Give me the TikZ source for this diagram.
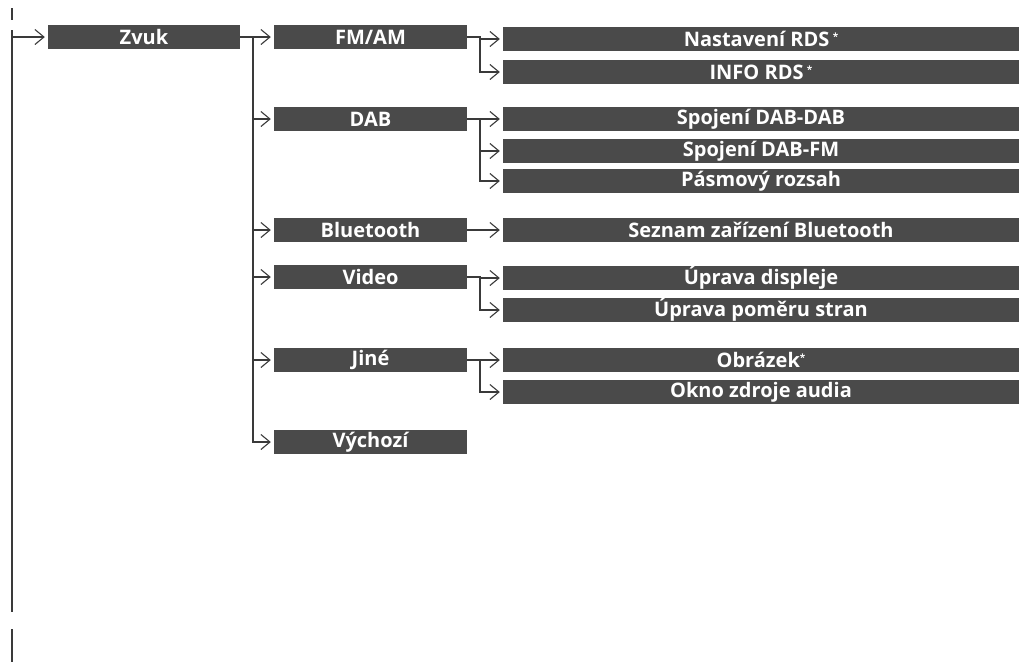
\documentclass[tikz,border=0pt]{standalone}
\usepackage{fontspec}
\setmainfont{Open Sans}
\usetikzlibrary{arrows.meta}
\definecolor{boxgray}{HTML}{4A4A4A}
\definecolor{linegray}{HTML}{3A3A3A}
\begin{document}
\begin{tikzpicture}[x=1pt,y=-1pt,
  menubox/.style={rectangle,fill=boxgray,text=white,inner sep=0pt,minimum height=24pt,font=\fontsize{20}{22}\selectfont\bfseries},
  lvlone/.style={menubox,minimum width=192pt},
  lvltwo/.style={menubox,minimum width=193pt},
  lvlthree/.style={menubox,minimum width=516pt},
  conn/.style={draw=linegray,line width=1.1pt},
  arr/.style={conn,-{Straight Barb[length=9pt,width=15pt,line width=1.1pt]},shorten >=3pt}
]
\useasboundingbox (0,0) rectangle (1029,667);
% level 1
\node[lvlone] (zvuk) at (144,37) {Zvuk};
% level 2
\node[lvltwo] (fmam) at (370.5,37) {FM/AM};
\node[lvltwo] (dab) at (370.5,119) {DAB};
\node[lvltwo] (bt) at (370.5,230) {Bluetooth};
\node[lvltwo] (video) at (370.5,277) {Video};
\node[lvltwo] (jine) at (370.5,360) {Jiné};
\node[lvltwo] (vych) at (370.5,442) {Výchozí};
% level 3
\node[lvlthree] (rds) at (761,39) {Nastavení RDS\,\raisebox{0.3em}{\fontsize{10}{10}\selectfont *}};
\node[lvlthree] (info) at (761,72) {INFO RDS\,\raisebox{0.3em}{\fontsize{10}{10}\selectfont *}};
\node[lvlthree] (dabdab) at (761,119) {Spojení DAB-DAB};
\node[lvlthree] (dabfm) at (761,151) {Spojení DAB-FM};
\node[lvlthree] (pasmo) at (761,181) {Pásmový rozsah};
\node[lvlthree] (seznam) at (761,230) {Seznam zařízení Bluetooth};
\node[lvlthree] (displ) at (761,278) {Úprava displeje};
\node[lvlthree] (pomer) at (761,310) {Úprava poměru stran};
\node[lvlthree] (obr) at (761,360) {Obrázek\raisebox{0.3em}{\fontsize{10}{10}\selectfont *}};
\node[lvlthree] (okno) at (761,392) {Okno zdroje audia};
% left rail
\coordinate (railtop) at (12,30);
\coordinate (railbot) at (12,612);
\coordinate (tickA) at (12,8);
\coordinate (tickB) at (12,20);
\coordinate (tickC) at (12,629);
\coordinate (tickD) at (12,662);
\draw[conn] (tickA) -- (tickB);
\draw[conn] (railtop) -- (railbot);
\draw[conn] (tickC) -- (tickD);
\coordinate (rail1) at (12,37);
\draw[arr] (rail1) -- (zvuk.west);
% trunk level 2
\coordinate (t2) at (253,37);
\draw[arr] (zvuk.east) -- (fmam.west);
\draw[conn] (t2) -- (253,442);
\draw[arr] (t2) |- (dab.west);
\draw[arr] (t2) |- (bt.west);
\draw[arr] (t2) |- (video.west);
\draw[arr] (t2) |- (jine.west);
\draw[arr] (t2) |- (vych.west);
% level 3 branches
\coordinate (b1) at (480,37);
\draw[arr] (fmam.east) -- (b1) |- (rds.west);
\draw[arr] (b1) |- (info.west);
\coordinate (b2) at (480,119);
\draw[arr] (dab.east) -- (dabdab.west);
\draw[arr] (b2) |- (dabfm.west);
\draw[arr] (b2) |- (pasmo.west);
\draw[arr] (bt.east) -- (seznam.west);
\coordinate (b4) at (480,277);
\draw[arr] (video.east) -- (b4) |- (displ.west);
\draw[arr] (b4) |- (pomer.west);
\coordinate (b5) at (480,360);
\draw[arr] (jine.east) -- (obr.west);
\draw[arr] (b5) |- (okno.west);
\end{tikzpicture}
\end{document}
